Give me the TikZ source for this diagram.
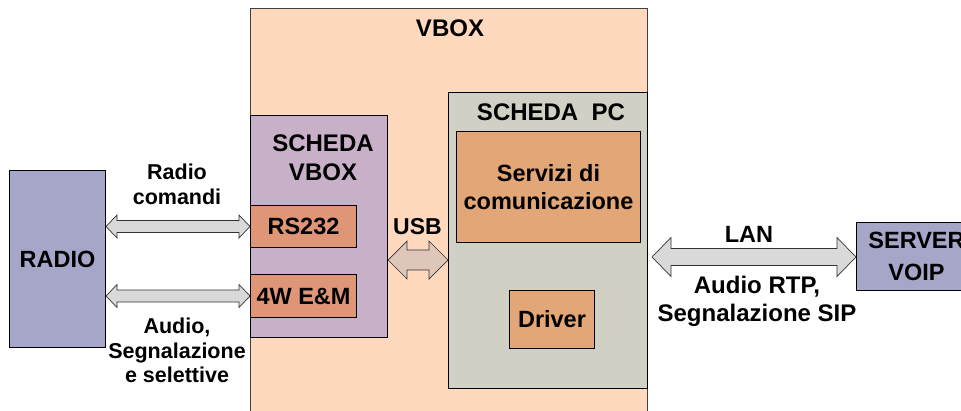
\documentclass[tikz,border=0pt]{standalone}
\usepackage{fontspec}
\setmainfont{Liberation Sans}
\usetikzlibrary{calc}
\definecolor{vboxc}{HTML}{FFD9BE}
\definecolor{pcc}{HTML}{D0D1C4}
\definecolor{servc}{HTML}{E3A676}
\definecolor{svbc}{HTML}{C8B0C8}
\definecolor{rsc}{HTML}{DF9677}
\definecolor{radioc}{HTML}{A6A6C8}
\definecolor{arrc}{HTML}{D9D9D9}
\definecolor{usbc}{HTML}{DEC6B8}
\tikzset{
  blk/.style={draw=black, line width=1pt, inner sep=0pt, anchor=north west},
  big/.style={font=\bfseries\fontsize{23.5}{28}\selectfont, align=center, inner sep=0pt},
  small/.style={font=\bfseries\fontsize{21.5}{24.5}\selectfont, align=center, inner sep=0pt},
  arrowbody/.style={draw=black!80, line width=0.7pt, line join=miter},
}
\newcommand\dblarrow[6]{%
  \draw[arrowbody, fill=#6] let \p1=(#1), \p2=(#2) in
   (\x1,\y1) -- (\x1+#5pt,\y1+#4pt) -- (\x1+#5pt,\y1+#3pt) -- (\x2-#5pt,\y1+#3pt)
   -- (\x2-#5pt,\y1+#4pt) -- (\x2,\y1) -- (\x2-#5pt,\y1-#4pt) -- (\x2-#5pt,\y1-#3pt)
   -- (\x1+#5pt,\y1-#3pt) -- (\x1+#5pt,\y1-#4pt) -- cycle;}
\begin{document}
\begin{tikzpicture}[x=1pt,y=-1pt]
\useasboundingbox (0,0) rectangle (961,410);
\fill[white] (0,0) rectangle (961,410);
% boxes
\node[blk, draw=black!75, fill=vboxc, minimum width=397pt, minimum height=412pt] (vbox) at (250,8) {};
\node[big, font=\bfseries\fontsize{24}{28}\selectfont] (vboxt) at (450,28) {VBOX};
\node[blk, fill=pcc, minimum width=199pt, minimum height=296pt] (pc) at (448,92) {};
\node[big, font=\bfseries\fontsize{24}{28}\selectfont] (pct) at (551,112) {SCHEDA~~PC};
\node[blk, fill=servc, minimum width=184pt, minimum height=111pt, big, anchor=north west] (serv) at (456,131) {Servizi di\\comunicazione};
\node[blk, fill=servc, minimum width=85pt, minimum height=58pt, big, anchor=north west] (drv) at (509,290) {Driver};
\node[blk, fill=svbc, minimum width=137pt, minimum height=222pt] (svb) at (250,115) {};
\node[big, font=\bfseries\fontsize{24}{29}\selectfont] (svbt) at (323,157.5) {SCHEDA\\VBOX};
\node[blk, fill=rsc, minimum width=106pt, minimum height=42pt, big, anchor=north west] (rs) at (250,205) {RS232};
\node[blk, fill=rsc, minimum width=106pt, minimum height=43pt, big, anchor=north west] (em) at (250,274) {4W E\&M};
\node[blk, fill=radioc, minimum width=96pt, minimum height=177pt, big, anchor=north west] (radio) at (9,170) {RADIO};
\node[blk, fill=radioc, minimum width=120pt, minimum height=68pt, big, anchor=north west, font=\bfseries\fontsize{23.5}{32}\selectfont] (server) at (856,222) {SERVER\\VOIP};
% helper coordinates
\coordinate (usby) at (0,260);
\coordinate (lany) at (0,257);
% connectors
\dblarrow{radio.east |- rs.west}{rs.west}{6}{11.5}{11}{arrc}
\dblarrow{radio.east |- em.west}{em.west}{6}{11.5}{11}{arrc}
\dblarrow{svb.east |- usby}{pc.west |- usby}{10}{19}{19}{usbc}
\dblarrow{$(pc.east |- lany)+(4,0)$}{server.west |- lany}{8.5}{19.5}{19}{arrc}
% labels
\node[small] (lrc) at (177,184.5) {Radio\\comandi};
\node[small] (las) at (177,350.5) {Audio,\\Segnalazione\\e selettive};
\node[big, font=\bfseries\fontsize{23}{28}\selectfont] (lusb) at (417.5,226.5) {USB};
\node[big] (llan) at (749,234) {LAN};
\node[big, font=\bfseries\fontsize{24}{28}\selectfont] (lrtp) at (757,301) {Audio RTP,\\Segnalazione SIP};
\end{tikzpicture}
\end{document}
